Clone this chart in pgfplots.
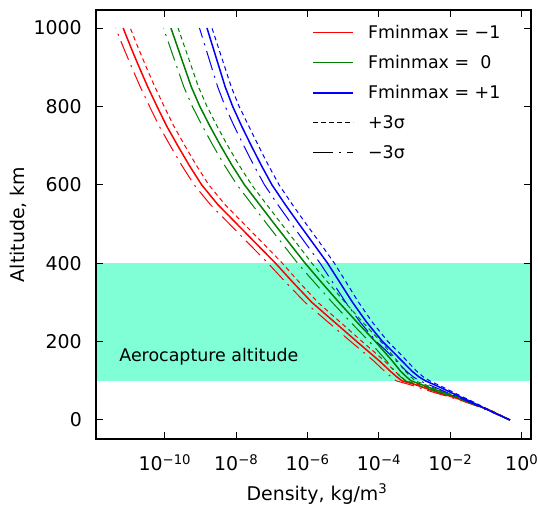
\documentclass[border=0pt]{standalone}
\usepackage{fontspec}
\setmainfont{DejaVu Sans}
\usepackage{pgfplots}
\usepackage{pgfplotstable}
\pgfplotsset{compat=1.18}
\definecolor{mplgreen}{RGB}{0,128,0}
\definecolor{band}{RGB}{128,255,214}

% columns: altitude (km), log10 density: nominal, +3sigma, -3sigma
\pgfplotstableread{
alt mid plus minus
0 -0.33 -0.33 -0.33
25 -0.90 -0.87 -0.93
50 -1.64 -1.58 -1.71
60 -1.98 -1.91 -2.07
70 -2.34 -2.26 -2.45
80 -2.66 -2.57 -2.79
90 -2.98 -2.88 -3.13
100 -3.36 -3.24 -3.52
110 -3.50 -3.38 -3.66
125 -3.69 -3.56 -3.85
150 -3.98 -3.84 -4.14
175 -4.30 -4.15 -4.46
200 -4.62 -4.47 -4.79
250 -5.25 -5.09 -5.43
300 -5.88 -5.71 -6.07
350 -6.40 -6.22 -6.60
400 -6.90 -6.71 -7.11
450 -7.44 -7.24 -7.65
500 -7.98 -7.78 -8.19
550 -8.52 -8.32 -8.73
600 -8.97 -8.77 -9.18
650 -9.32 -9.12 -9.53
700 -9.64 -9.44 -9.85
750 -9.95 -9.75 -10.16
800 -10.22 -10.02 -10.43
850 -10.48 -10.28 -10.69
900 -10.72 -10.52 -10.93
950 -10.95 -10.75 -11.16
1000 -11.17 -10.97 -11.38
}\tabR

\pgfplotstableread{
alt mid plus minus
0 -0.33 -0.33 -0.33
25 -0.92 -0.89 -0.95
50 -1.57 -1.51 -1.64
60 -1.88 -1.81 -1.97
70 -2.18 -2.10 -2.29
80 -2.50 -2.41 -2.63
90 -2.80 -2.70 -2.95
100 -3.10 -2.98 -3.26
110 -3.23 -3.11 -3.39
125 -3.40 -3.27 -3.56
150 -3.62 -3.48 -3.78
175 -3.86 -3.71 -4.02
200 -4.10 -3.95 -4.27
250 -4.62 -4.46 -4.80
300 -5.12 -4.95 -5.31
350 -5.60 -5.42 -5.80
400 -6.07 -5.88 -6.28
450 -6.50 -6.30 -6.71
500 -6.93 -6.73 -7.14
550 -7.35 -7.15 -7.56
600 -7.77 -7.57 -7.98
650 -8.12 -7.92 -8.33
700 -8.44 -8.24 -8.65
750 -8.74 -8.54 -8.95
800 -9.02 -8.82 -9.23
850 -9.26 -9.06 -9.47
900 -9.45 -9.25 -9.66
950 -9.64 -9.44 -9.85
1000 -9.83 -9.63 -10.04
}\tabG

\pgfplotstableread{
alt mid plus minus
0 -0.33 -0.33 -0.33
25 -0.93 -0.90 -0.96
50 -1.50 -1.44 -1.57
60 -1.75 -1.68 -1.84
70 -1.98 -1.90 -2.09
80 -2.21 -2.12 -2.34
90 -2.45 -2.35 -2.60
100 -2.70 -2.58 -2.86
110 -2.88 -2.76 -3.04
125 -3.08 -2.95 -3.24
150 -3.35 -3.21 -3.51
175 -3.62 -3.47 -3.78
200 -3.90 -3.75 -4.07
250 -4.35 -4.19 -4.53
300 -4.74 -4.57 -4.93
350 -5.09 -4.91 -5.29
400 -5.44 -5.25 -5.65
450 -5.84 -5.64 -6.05
500 -6.24 -6.04 -6.45
550 -6.63 -6.43 -6.84
600 -7.00 -6.80 -7.21
650 -7.30 -7.10 -7.51
700 -7.58 -7.38 -7.79
750 -7.85 -7.65 -8.06
800 -8.10 -7.92 -8.31
850 -8.31 -8.14 -8.52
900 -8.48 -8.32 -8.69
950 -8.65 -8.50 -8.86
1000 -8.82 -8.68 -9.03
}\tabB

\begin{document}
\begin{tikzpicture}
\begin{axis}[
  at={(0,0)}, anchor=south west,
  width=435bp, height=429bp, scale only axis,
  xmin=-11.93, xmax=0.26, ymin=-48.5, ymax=1046,
  xtick={-10,-8,-6,-4,-2,0},
  xticklabels={10\textsuperscript{−10},10\textsuperscript{−8},10\textsuperscript{−6},10\textsuperscript{−4},10\textsuperscript{−2},10\textsuperscript{0}},
  ytick={0,200,400,600,800,1000},
  yticklabels={0,200,400,600,800,1000},
  minor tick num=0,
  xtick pos=both, ytick pos=both,
  xticklabel pos=lower, yticklabel pos=left,
  tick align=inside,
  major tick length=7bp,
  tick style={black, line width=1bp},
  axis line style={line width=1.3bp},
  axis on top,
  tick label style={font=\fontsize{19}{22}\selectfont},
  xticklabel style={anchor=base, inner sep=0pt, yshift=-31.7bp},
  yticklabel style={anchor=east, inner sep=0pt, xshift=-14bp},
  xlabel={Density, kg/m\textsuperscript{3}},
  ylabel={Altitude, km},
  every axis x label/.style={at={([xshift=3.5bp,yshift=-61bp]axis description cs:0.5,0)}, anchor=base, inner sep=0pt, font=\fontsize{19}{22}\selectfont},
  every axis y label/.style={at={([xshift=-86bp]axis description cs:0,0.5)}, rotate=90, anchor=north, inner sep=0pt, font=\fontsize{19}{22}\selectfont},
  legend cell align=left,
  legend image code/.code={\draw[#1] (0bp,0bp) -- (40bp,0bp);},
  legend style={draw=none, fill=none, inner sep=0pt, outer sep=0pt,
    at={(axis description cs:0.498,0.965)}, anchor=north west,
    row sep=15.5bp, column sep=14bp,
    font=\fontsize{17.5}{20}\selectfont,
    nodes={inner sep=0pt}},
]
\addplot[fill=band, draw=none, forget plot] coordinates {(-13,100) (2,100) (2,400) (-13,400) (-13,100)};

\addlegendimage{red, line width=1.5bp}
\addlegendentry{Fminmax = −1}
\addlegendimage{mplgreen, line width=1.5bp}
\addlegendentry{Fminmax = \ 0}
\addlegendimage{blue, line width=1.5bp}
\addlegendentry{Fminmax = +1}
\addlegendimage{black, line width=1bp, dash pattern=on 4.5bp off 3.5bp}
\addlegendentry{+3σ}
\addlegendimage{black, line width=1bp, dash pattern=on 20bp off 6bp on 2bp off 6bp}
\addlegendentry{−3σ}

\addplot[red, line width=1bp, dash pattern=on 4.5bp off 3.5bp, forget plot] table[x=plus, y=alt] {\tabR};
\addplot[red, line width=1bp, dash pattern=on 20bp off 6bp on 2bp off 6bp, forget plot] table[x=minus, y=alt] {\tabR};
\addplot[red, line width=1.5bp, forget plot] table[x=mid, y=alt] {\tabR};

\addplot[mplgreen, line width=1bp, dash pattern=on 4.5bp off 3.5bp, forget plot] table[x=plus, y=alt] {\tabG};
\addplot[mplgreen, line width=1bp, dash pattern=on 20bp off 6bp on 2bp off 6bp, forget plot] table[x=minus, y=alt] {\tabG};
\addplot[mplgreen, line width=1.5bp, forget plot] table[x=mid, y=alt] {\tabG};

\addplot[blue, line width=1bp, dash pattern=on 4.5bp off 3.5bp, forget plot] table[x=plus, y=alt] {\tabB};
\addplot[blue, line width=1bp, dash pattern=on 20bp off 6bp on 2bp off 6bp, forget plot] table[x=minus, y=alt] {\tabB};
\addplot[blue, line width=1.5bp, forget plot] table[x=mid, y=alt] {\tabB};

\node[anchor=base west, inner sep=0pt, font=\fontsize{17.5}{20}\selectfont] at (axis cs:-11.28,149) {Aerocapture altitude};
\end{axis}
\pgfresetboundingbox
\path[use as bounding box] (-96bp,-70bp) rectangle (442bp,439bp);
\end{tikzpicture}
\end{document}
